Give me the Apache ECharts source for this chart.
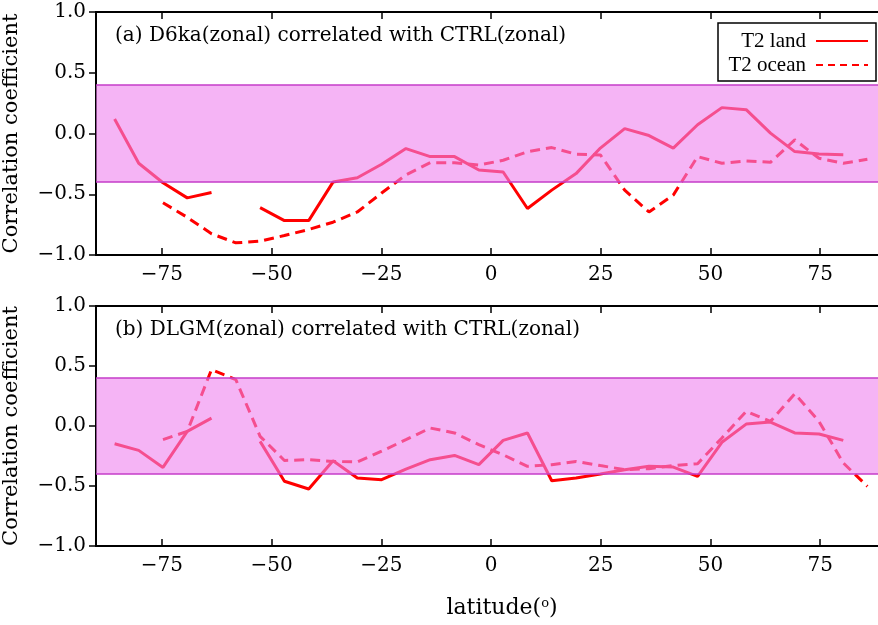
<!DOCTYPE html>
<html>
<head>
<meta charset="utf-8">
<script src="https://cdn.jsdelivr.net/npm/echarts@6/dist/echarts.min.js"></script>
<style>html,body{margin:0;padding:0;background:#fff}#c{width:878px;height:625px}</style>
</head>
<body>
<div id="c"></div>
<script>
// T21 Gaussian latitudes
var latitudes = [-85.76,-80.27,-74.74,-69.21,-63.68,-58.14,-52.61,-47.07,-41.53,-36.00,-30.46,-24.92,-19.38,-13.84,-8.31,-2.77,2.77,8.31,13.84,19.38,24.92,30.46,36.00,41.53,47.07,52.61,58.14,63.68,69.21,74.74,80.27,85.76];
var landA = [0.12,-0.245,-0.405,-0.53,-0.485,null,-0.61,-0.717,-0.717,-0.40,-0.364,-0.253,-0.124,-0.19,-0.19,-0.30,-0.317,-0.617,-0.466,-0.33,-0.12,0.04,-0.017,-0.12,0.072,0.213,0.196,0.003,-0.149,-0.168,-0.174,null];
var oceanA = [null,null,-0.57,-0.69,-0.825,-0.90,-0.886,-0.84,-0.79,-0.73,-0.646,-0.49,-0.34,-0.24,-0.24,-0.26,-0.22,-0.15,-0.116,-0.17,-0.176,-0.466,-0.646,-0.507,-0.19,-0.245,-0.226,-0.237,-0.052,-0.204,-0.245,-0.212];
var landB = [-0.148,-0.203,-0.345,-0.045,0.066,null,-0.128,-0.46,-0.525,-0.29,-0.434,-0.447,-0.36,-0.281,-0.245,-0.322,-0.12,-0.058,-0.456,-0.434,-0.40,-0.364,-0.336,-0.342,-0.42,-0.136,0.016,0.033,-0.058,-0.067,-0.12,null];
var oceanB = [null,null,-0.114,-0.045,0.47,0.386,-0.086,-0.287,-0.281,-0.295,-0.30,-0.21,-0.114,-0.017,-0.058,-0.156,-0.24,-0.336,-0.322,-0.295,-0.33,-0.364,-0.356,-0.33,-0.314,-0.1,0.122,0.038,0.269,0.038,-0.308,-0.503];
var xTicks = [-75,-50,-25,0,25,50,75];
var bandLimits = [-0.4, 0.4];
var panelTitles = ['(a) D6ka(zonal) correlated with CTRL(zonal)', '(b) DLGM(zonal) correlated with CTRL(zonal)'];
var legendNames = ['T2 land', 'T2 ocean'];

var FONT = 'DejaVu Serif';
var LFONT = 'Liberation Serif';
function pairs(vals){ return latitudes.map(function(l,i){ return [l, vals[i]]; }); }
function minus(s){ return String(s).replace('-', '\u2212'); }

var grids = [
  {left: 96, top: 12, width: 790, height: 243},
  {left: 96, top: 306, width: 790, height: 240}
];

var xAxes = [], yAxes = [], series = [];
grids.forEach(function(g, i){
  xAxes.push({
    gridIndex: i, type: 'value', min: -90, max: 90, position: 'bottom',
    axisLine: {show: true, onZero: false, lineStyle: {color: '#000', width: 2}},
    axisTick: {show: true, inside: true, length: 7, customValues: xTicks, lineStyle: {color: '#000', width: 1.5}},
    axisLabel: {show: true, customValues: xTicks, margin: 10, color: '#000', fontFamily: FONT, fontSize: 20,
      formatter: function(v){ return minus(v); }},
    splitLine: {show: false}
  });
  xAxes.push({
    gridIndex: i, type: 'value', min: -90, max: 90, position: 'top',
    axisLine: {show: true, onZero: false, lineStyle: {color: '#000', width: 2}},
    axisTick: {show: true, inside: true, length: 7, customValues: xTicks, lineStyle: {color: '#000', width: 1.5}},
    axisLabel: {show: false},
    splitLine: {show: false}
  });
  yAxes.push({
    gridIndex: i, type: 'value', min: -1, max: 1, interval: 0.5,
    name: 'Correlation coefficient', nameLocation: 'middle', nameGap: 74,
    nameTextStyle: {color: '#000', fontFamily: FONT, fontSize: 21},
    axisLine: {show: true, onZero: false, lineStyle: {color: '#000', width: 2}},
    axisTick: {show: true, inside: false, length: 7, lineStyle: {color: '#000', width: 1.5}},
    axisLabel: {margin: 10, color: '#000', fontFamily: FONT, fontSize: 20,
      formatter: function(v){ return minus(v.toFixed(1)); }},
    splitLine: {show: false}
  });
});

var lineData = [[landA, oceanA], [landB, oceanB]];
for (var i = 0; i < 2; i++) {
  series.push({
    name: legendNames[0], type: 'line', xAxisIndex: 2*i, yAxisIndex: i,
    data: pairs(lineData[i][0]), showSymbol: false, connectNulls: false, z: 3,
    lineStyle: {color: '#ff0000', width: 3}, itemStyle: {color: '#ff0000'}
  });
  series.push({
    name: legendNames[1], type: 'line', xAxisIndex: 2*i, yAxisIndex: i,
    data: pairs(lineData[i][1]), showSymbol: false, connectNulls: false, z: 3,
    lineStyle: {color: '#ff0000', width: 3, type: [10, 6], cap: 'butt'}, itemStyle: {color: '#ff0000'}
  });
  series.push({
    type: 'line', xAxisIndex: 2*i, yAxisIndex: i, data: [], z: 10, silent: true,
    markArea: {z: 10, silent: true, itemStyle: {color: 'rgba(238,130,238,0.6)', borderWidth: 0},
      data: [[{yAxis: bandLimits[0]}, {yAxis: bandLimits[1]}]]},
    markLine: {z: 11, silent: true, symbol: 'none', label: {show: false},
      lineStyle: {color: '#c43cc8', width: 1.5, type: 'solid'},
      data: [{yAxis: bandLimits[0]}, {yAxis: bandLimits[1]}]}
  });
}

var chart = echarts.init(document.getElementById('c'), null, {renderer: 'canvas'});
chart.setOption({
  animation: false,
  backgroundColor: '#fff',
  grid: grids.map(function(g){ return Object.assign({show: true, borderColor: '#000', borderWidth: 2, backgroundColor: 'transparent', containLabel: false, outerBoundsMode: 'none'}, g); }),
  title: [
    {text: panelTitles[0], left: 110, top: 21, textStyle: {color: '#000', fontFamily: FONT, fontSize: 20, fontWeight: 'normal'}},
    {text: panelTitles[1], left: 110, top: 315, textStyle: {color: '#000', fontFamily: FONT, fontSize: 20, fontWeight: 'normal'}}
  ],
  xAxis: xAxes,
  yAxis: yAxes,
  series: series,
  graphic: [
    {type: 'rect', z: 50, shape: {x: 718, y: 23, width: 158, height: 58},
      style: {fill: '#fff', stroke: '#000', lineWidth: 1.5}},
    {type: 'text', z: 51, x: 806, y: 41, style: {text: legendNames[0], textAlign: 'right', textVerticalAlign: 'middle', fill: '#000', font: '21px "' + LFONT + '"'}},
    {type: 'text', z: 51, x: 806, y: 65, style: {text: legendNames[1], textAlign: 'right', textVerticalAlign: 'middle', fill: '#000', font: '21px "' + LFONT + '"'}},
    {type: 'line', z: 51, shape: {x1: 816, y1: 41, x2: 868, y2: 41}, style: {stroke: '#ff0000', lineWidth: 2}},
    {type: 'line', z: 51, shape: {x1: 816, y1: 65, x2: 868, y2: 65}, style: {stroke: '#ff0000', lineWidth: 2, lineDash: [7, 5]}},
    {type: 'text', z: 51, x: 502, y: 608, style: {
      text: '{a|latitude(}{s|o}{a|)}', textAlign: 'center', textVerticalAlign: 'middle',
      rich: {a: {fontFamily: FONT, fontSize: 22, fill: '#000'}, s: {fontFamily: FONT, fontSize: 13, fill: '#000', verticalAlign: 'top'}}
    }}
  ]
});
</script>
</body>
</html>
